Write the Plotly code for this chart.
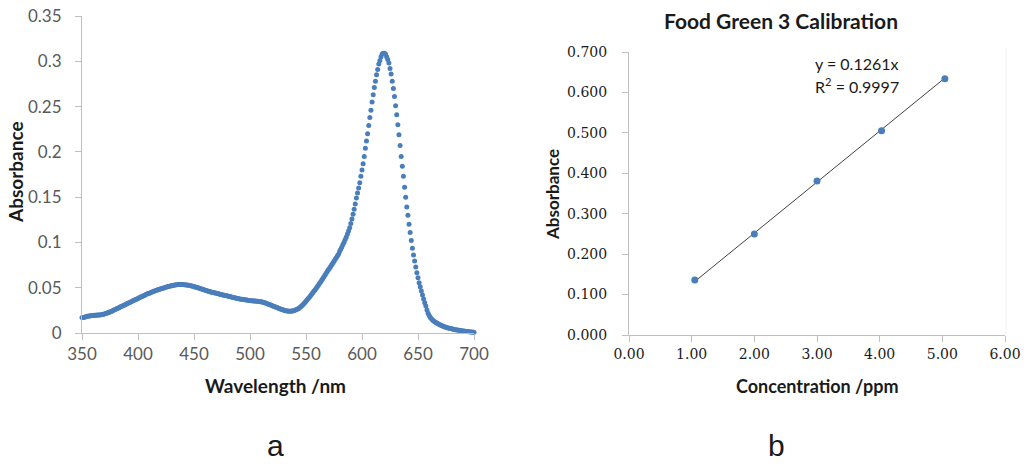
import plotly.graph_objects as go

# ---------------- data ----------------
wavelength_start = 350
absorbance_spectrum = [
    0.0170, 0.0172, 0.0175, 0.0178, 0.0181, 0.0184, 0.0187, 0.0189, 0.0191, 0.0193,  # 350
    0.0194, 0.0195, 0.0196, 0.0197, 0.0198, 0.0199, 0.0200, 0.0202, 0.0204, 0.0207,  # 360
    0.0210, 0.0214, 0.0218, 0.0223, 0.0228, 0.0233, 0.0238, 0.0244, 0.0250, 0.0256,  # 370
    0.0262, 0.0268, 0.0274, 0.0280, 0.0286, 0.0292, 0.0298, 0.0304, 0.0310, 0.0316,  # 380
    0.0322, 0.0328, 0.0334, 0.0340, 0.0346, 0.0352, 0.0358, 0.0364, 0.0370, 0.0376,  # 390
    0.0382, 0.0388, 0.0394, 0.0400, 0.0406, 0.0412, 0.0418, 0.0424, 0.0430, 0.0435,  # 400
    0.0440, 0.0445, 0.0450, 0.0455, 0.0460, 0.0465, 0.0470, 0.0474, 0.0478, 0.0482,  # 410
    0.0486, 0.0490, 0.0494, 0.0498, 0.0502, 0.0506, 0.0510, 0.0513, 0.0516, 0.0519,  # 420
    0.0522, 0.0525, 0.0528, 0.0530, 0.0532, 0.0534, 0.0535, 0.0536, 0.0536, 0.0536,  # 430
    0.0535, 0.0534, 0.0533, 0.0531, 0.0529, 0.0527, 0.0525, 0.0522, 0.0519, 0.0516,  # 440
    0.0513, 0.0509, 0.0505, 0.0501, 0.0497, 0.0493, 0.0489, 0.0485, 0.0481, 0.0477,  # 450
    0.0473, 0.0469, 0.0465, 0.0461, 0.0457, 0.0453, 0.0450, 0.0447, 0.0444, 0.0441,  # 460
    0.0438, 0.0435, 0.0432, 0.0429, 0.0426, 0.0423, 0.0420, 0.0417, 0.0414, 0.0411,  # 470
    0.0408, 0.0405, 0.0402, 0.0399, 0.0396, 0.0393, 0.0390, 0.0387, 0.0384, 0.0381,  # 480
    0.0378, 0.0376, 0.0374, 0.0372, 0.0370, 0.0368, 0.0366, 0.0364, 0.0362, 0.0360,  # 490
    0.0358, 0.0356, 0.0355, 0.0354, 0.0353, 0.0352, 0.0351, 0.0350, 0.0348, 0.0346,  # 500
    0.0344, 0.0341, 0.0338, 0.0334, 0.0330, 0.0326, 0.0321, 0.0316, 0.0311, 0.0306,  # 510
    0.0301, 0.0296, 0.0291, 0.0286, 0.0281, 0.0276, 0.0271, 0.0266, 0.0261, 0.0257,  # 520
    0.0253, 0.0249, 0.0246, 0.0244, 0.0242, 0.0241, 0.0241, 0.0242, 0.0244, 0.0247,  # 530
    0.0251, 0.0256, 0.0262, 0.0269, 0.0277, 0.0287, 0.0298, 0.0310, 0.0323, 0.0337,  # 540
    0.0351, 0.0366, 0.0381, 0.0396, 0.0412, 0.0428, 0.0444, 0.0460, 0.0476, 0.0492,  # 550
    0.0510, 0.0528, 0.0546, 0.0564, 0.0583, 0.0602, 0.0621, 0.0640, 0.0659, 0.0678,  # 560
    0.0697, 0.0716, 0.0735, 0.0754, 0.0773, 0.0792, 0.0811, 0.0830, 0.0850, 0.0870,  # 570
    0.0900, 0.0925, 0.0950, 0.0976, 0.1003, 0.1031, 0.1061, 0.1093, 0.1127, 0.1163,  # 580
    0.1210, 0.1260, 0.1310, 0.1365, 0.1425, 0.1490, 0.1545, 0.1600, 0.1660, 0.1730,  # 590
    0.1800, 0.1870, 0.1950, 0.2040, 0.2120, 0.2200, 0.2290, 0.2380, 0.2460, 0.2550,  # 600
    0.2630, 0.2710, 0.2780, 0.2850, 0.2910, 0.2970, 0.3010, 0.3050, 0.3080, 0.3090,  # 610
    0.3090, 0.3080, 0.3050, 0.3020, 0.2980, 0.2920, 0.2860, 0.2780, 0.2700, 0.2610,  # 620
    0.2510, 0.2410, 0.2300, 0.2190, 0.2070, 0.1950, 0.1840, 0.1730, 0.1610, 0.1500,  # 630
    0.1390, 0.1300, 0.1200, 0.1110, 0.1020, 0.0935, 0.0860, 0.0795, 0.0730, 0.0666,  # 640
    0.0610, 0.0555, 0.0510, 0.0464, 0.0420, 0.0375, 0.0335, 0.0298, 0.0254, 0.0217,  # 650
    0.0192, 0.0172, 0.0156, 0.0143, 0.0132, 0.0123, 0.0115, 0.0108, 0.0101, 0.0094,  # 660
    0.0088, 0.0082, 0.0077, 0.0072, 0.0067, 0.0063, 0.0059, 0.0055, 0.0052, 0.0049,  # 670
    0.0046, 0.0043, 0.0040, 0.0037, 0.0035, 0.0033, 0.0031, 0.0029, 0.0027, 0.0025,  # 680
    0.0023, 0.0021, 0.0019, 0.0017, 0.0016, 0.0014, 0.0013, 0.0011, 0.0010, 0.0009,  # 690
    0.0008,                                                                          # 700
]
wavelength = [wavelength_start + i for i in range(len(absorbance_spectrum))]

spec_xticks = [350, 400, 450, 500, 550, 600, 650, 700]
spec_yticks = [0, 0.05, 0.1, 0.15, 0.2, 0.25, 0.3, 0.35]
spec_yticktext = ["0", "0.05", "0.1", "0.15", "0.2", "0.25", "0.3", "0.35"]

concentration = [1.05, 2.00, 3.00, 4.03, 5.04]
cal_absorbance = [0.136, 0.250, 0.381, 0.505, 0.634]
slope = 0.1261
r_squared = 0.9997
cal_xticks = [0, 1, 2, 3, 4, 5, 6]
cal_yticks = [0, 0.1, 0.2, 0.3, 0.4, 0.5, 0.6, 0.7]

BLUE = "#4a7ebb"
AXIS = "#bfbfbf"
SANS = "Lato, 'Open Sans', sans-serif"
SERIF = "'DejaVu Serif', serif"

W, H = 1034, 464
def px(x): return x / W
def py(y): return (H - y) / H

fig = go.Figure()

fig.add_trace(go.Scatter(
    x=wavelength, y=absorbance_spectrum, mode="markers",
    marker=dict(color=BLUE, size=5, line=dict(width=0)),
    cliponaxis=False, showlegend=False, xaxis="x", yaxis="y"))

fit_x = [concentration[0], concentration[-1]]
fit_y = [slope * v for v in fit_x]
fig.add_trace(go.Scatter(
    x=fit_x, y=fit_y, mode="lines", line=dict(color="#404040", width=1),
    showlegend=False, xaxis="x2", yaxis="y2"))
fig.add_trace(go.Scatter(
    x=concentration, y=cal_absorbance, mode="markers",
    marker=dict(color=BLUE, size=7, line=dict(width=0)),
    cliponaxis=False, showlegend=False, xaxis="x2", yaxis="y2"))

common_axis = dict(showgrid=False, zeroline=False, showline=True, linecolor=AXIS,
                   linewidth=1, ticks="outside", ticklen=6, tickcolor=AXIS,
                   automargin=False)

fig.update_layout(
    template="none",
    width=W, height=H, margin=dict(l=0, r=0, t=0, b=0, pad=0),
    paper_bgcolor="white", plot_bgcolor="white",
    xaxis=dict(domain=[px(82), px(474)], range=[350, 700], tickvals=spec_xticks,
               tickfont=dict(family=SANS, size=17, color="#595959"),
               anchor="y", **common_axis),
    yaxis=dict(domain=[py(333), py(16)], range=[0, 0.35], tickvals=spec_yticks,
               ticktext=spec_yticktext, ticklabelstandoff=10,
               tickfont=dict(family=SANS, size=17, color="#595959"),
               anchor="x", **common_axis),
    xaxis2=dict(domain=[px(629), px(1005)], range=[0, 6], tickvals=cal_xticks,
                tickformat=".2f",
                tickfont=dict(family=SERIF, size=14, color="#1a1a1a"),
                anchor="y2", **common_axis),
    yaxis2=dict(domain=[py(335), py(52)], range=[0, 0.7], tickvals=cal_yticks,
                tickformat=".3f", ticklabelstandoff=12,
                tickfont=dict(family=SERIF, size=14, color="#1a1a1a"),
                anchor="x2", **common_axis),
)

# faint right border of calibration plot
fig.add_shape(type="line", xref="paper", yref="paper",
              x0=px(1006), x1=px(1006), y0=py(335), y1=py(48),
              line=dict(color="#f0f0f0", width=1))

ann = [
    dict(text="<b>Absorbance</b>", x=px(15), y=py(172), textangle=-90,
         font=dict(family=SANS, size=19, color="#1a1a1a")),
    dict(text="<b>Wavelength /nm</b>", x=px(275), y=py(385),
         font=dict(family=SANS, size=19, color="#1a1a1a")),
    dict(text="<b>Absorbance</b>", x=px(553), y=py(195), textangle=-90,
         font=dict(family=SANS, size=17, color="#1a1a1a")),
    dict(text="<b>Concentration /ppm</b>", x=px(817), y=py(386),
         font=dict(family=SANS, size=18, color="#1a1a1a")),
    dict(text="<b>Food Green 3 Calibration</b>", x=px(781), y=py(20),
         font=dict(family=SANS, size=21, color="#1a1a1a")),
    dict(text=f"y = {slope:.4f}x", x=px(813), y=py(63), xanchor="left",
         font=dict(family=SANS, size=16, color="#1a1a1a")),
    dict(text=f"R<sup>2</sup> = {r_squared:.4f}", x=px(813), y=py(86), xanchor="left",
         font=dict(family=SANS, size=16, color="#1a1a1a")),
    dict(text="a", x=px(275), y=py(445),
         font=dict(family="Liberation Sans, Arial, sans-serif", size=30, color="#1a1a1a")),
    dict(text="b", x=px(776), y=py(445),
         font=dict(family="Liberation Sans, Arial, sans-serif", size=30, color="#1a1a1a")),
]
for a in ann:
    a.setdefault("xanchor", "center")
    fig.add_annotation(xref="paper", yref="paper", showarrow=False, yanchor="middle", **a)

fig.write_html("out.html", config={"displayModeBar": False},
               post_script="document.body.style.margin='0';document.body.style.padding='0';")
